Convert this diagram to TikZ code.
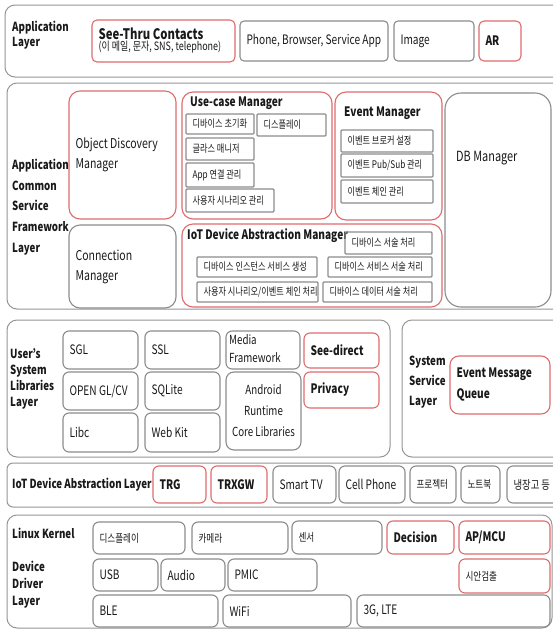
\documentclass[tikz,border=0pt]{standalone}
\usepackage{fontspec}
\setmainfont{Noto Sans CJK KR}[FakeStretch=0.78]
\definecolor{boxred}{RGB}{222,108,108}
\definecolor{boxgray}{RGB}{140,140,140}
\definecolor{laygray}{RGB}{150,150,150}
\definecolor{ink}{RGB}{25,25,25}
% box with left-aligned text
\newcommand\bx[7]{%
  \pgfmathsetlengthmacro\bxw{#5-#3}%
  \pgfmathsetlengthmacro\bxh{#6-#4}%
  \node[#1, anchor=north west, minimum width=\bxw, minimum height=\bxh,
        inner sep=0pt, outer sep=0pt] (#2) at (#3,#4) {};
  \node[#1, draw=none, fill=none, anchor=west, inner sep=0pt, align=left, text=ink]
        (#2-t) at ([xshift=6pt]#2.west) {#7};}
% box with centred text
\newcommand\cbx[7]{%
  \pgfmathsetlengthmacro\bxw{#5-#3}%
  \pgfmathsetlengthmacro\bxh{#6-#4}%
  \node[#1, anchor=north west, minimum width=\bxw, minimum height=\bxh,
        inner sep=0pt, outer sep=0pt] (#2) at (#3,#4) {};
  \node[#1, draw=none, fill=none, inner sep=0pt, align=center, text=ink]
        (#2-t) at (#2.center) {#7};}
% empty frame
\newcommand\fr[6]{%
  \pgfmathsetlengthmacro\bxw{#5-#3}%
  \pgfmathsetlengthmacro\bxh{#6-#4}%
  \node[#1, anchor=north west, minimum width=\bxw, minimum height=\bxh,
        inner sep=0pt, outer sep=0pt] (#2) at (#3,#4) {};}
\tikzset{
  layerbox/.style={draw=laygray, line width=1pt, rounded corners=10pt},
  gbox/.style={draw=boxgray, line width=1.1pt, rounded corners=4pt},
  rbox/.style={draw=boxred, line width=1.1pt, rounded corners=5pt},
  gbig/.style={gbox, rounded corners=11pt},
  rbig/.style={rbox, rounded corners=11pt},
  kitem/.style={gbox, rounded corners=1pt, font=\fontsize{10.5}{12}\selectfont},
  ko/.style={font=\fontsize{11}{13}\selectfont},
  rg/.style={font=\fontsize{13}{15}\selectfont},
  bd/.style={font=\bfseries\fontsize{13}{15}\selectfont},
  lab/.style={anchor=west, inner sep=0pt, align=left, text=ink},
}
\begin{document}
\begin{tikzpicture}[x=1pt,y=-1pt]
\useasboundingbox (0,0) rectangle (553,630);
\clip (0,0) rectangle (553,630);
\fill[white] (0,0) rectangle (553,630);

% ---------- Application Layer ----------
\fr{layerbox}{appL}{5}{5}{565}{77}
\node[lab, font=\bfseries\fontsize{12.5}{14.5}\selectfont] (appLbl) at (12,35) {Application\\Layer};
\bx{rbox}{seethru}{92}{20}{235}{62}{{\bfseries\fontsize{14.5}{17}\selectfont See-Thru Contacts}\\[-1pt]{\fontsize{11.5}{13}\selectfont (이 메일, 문자, SNS, telephone)}}
\bx{gbox, rg}{phone}{240}{21}{388}{61}{Phone, Browser, Service App}
\bx{gbox, rg}{image}{394}{21}{474}{61}{Image}
\bx{rbox, bd}{ar}{479}{21}{521}{61}{AR}

% ---------- Application Common Service Framework Layer ----------
\fr{layerbox}{fwL}{7}{83}{565}{309}
\node[lab, font=\bfseries\fontsize{12.5}{20.7}\selectfont] (fwLbl) at (12,207) {Application\\Common\\Service\\Framework\\Layer};
\bx{rbig, font=\fontsize{13.5}{20}\selectfont}{odm}{69}{91}{176}{219}{Object Discovery\\Manager}
\bx{gbig, font=\fontsize{13.5}{20}\selectfont}{conn}{69}{225}{176}{308}{Connection\\Manager}

\fr{rbig}{uc}{182}{92}{332}{219}
\node[lab, font=\bfseries\fontsize{13}{15}\selectfont] (ucT) at (190,103) {Use-case Manager};
\bx{kitem}{uc1}{186}{114}{254}{134}{디바이스 초기화}
\bx{kitem}{uc2}{257}{114}{326}{136}{디스플레이}
\bx{kitem}{uc3}{186}{138}{254}{160}{글라스 매니저}
\bx{kitem}{uc4}{186}{163}{254}{187}{App 연결 관리}
\bx{kitem}{uc5}{186}{189}{274}{212}{사용자 시나리오 관리}

\fr{rbig}{ev}{335}{92}{442}{220}
\node[lab, font=\bfseries\fontsize{13}{15}\selectfont] (evT) at (344,113) {Event Manager};
\bx{kitem}{ev1}{341}{130}{433}{152}{이벤트 브로커 설정}
\bx{kitem}{ev2}{341}{154}{433}{177}{이벤트 Pub/Sub 관리}
\bx{kitem}{ev3}{341}{180}{433}{203}{이벤트 체인 관리}

\fr{gbig, rounded corners=16pt}{db}{445}{93}{551}{307}
\node[lab, font=\fontsize{14}{16}\selectfont] (dbT) at (456,158) {DB Manager};

\fr{rbig}{iotm}{182}{224}{442}{307}
\node[lab, font=\bfseries\fontsize{13}{15}\selectfont] (iotT) at (187,236) {IoT Device Abstraction Manager};
\bx{kitem}{im1}{345}{232}{432}{254}{디바이스 서술 처리}
\bx{kitem}{im2}{197}{257}{317}{277}{디바이스 인스턴스 서비스 생성}
\bx{kitem}{im3}{328}{257}{432}{277}{디바이스 서비스 서술 처리}
\bx{kitem}{im4}{197}{282}{318}{302}{사용자 시나리오/이벤트 체인 처리}
\bx{kitem}{im5}{323}{282}{432}{302}{디바이스 데이터 서술 처리}

% ---------- User's System Libraries Layer ----------
\fr{layerbox}{usL}{7}{320}{390}{457}
\node[lab, font=\bfseries\fontsize{12.5}{16}\selectfont] (usLbl) at (10,379) {User’s\\System\\Libraries\\Layer};
\bx{gbox, rg, rounded corners=6pt}{sgl}{63}{331}{138}{369}{SGL}
\bx{gbox, rg, rounded corners=6pt}{opengl}{63}{372}{138}{410}{OPEN GL/CV}
\bx{gbox, rg, rounded corners=6pt}{libc}{63}{413}{138}{452}{Libc}
\bx{gbox, rg, rounded corners=6pt}{ssl}{145}{331}{220}{369}{SSL}
\bx{gbox, rg, rounded corners=6pt}{sqlite}{145}{372}{220}{410}{SQLite}
\bx{gbox, rg, rounded corners=6pt}{webkit}{145}{413}{220}{452}{Web Kit}
\fr{gbox, rounded corners=6pt}{media}{226}{331}{300}{369}
\node[lab, font=\fontsize{12.5}{18}\selectfont] (media-t) at (229,349) {Media\\Framework};
\cbx{gbox, rounded corners=8pt, font=\fontsize{12.5}{21}\selectfont}{android}{226}{372}{301}{450}{Android\\Runtime\\Core Libraries}
\bx{rbox, bd, rounded corners=6pt}{seedirect}{304}{333}{379}{368}{See-direct}
\bx{rbox, bd, rounded corners=6pt}{privacy}{304}{372}{379}{408}{Privacy}

% ---------- System Service Layer ----------
\fr{layerbox}{ssL}{402}{320}{565}{457}
\node[lab, font=\bfseries\fontsize{12.5}{20}\selectfont] (ssLbl) at (409,382) {System\\Service\\Layer};
\bx{rbox, rounded corners=9pt, font=\bfseries\fontsize{13}{21}\selectfont}{emq}{450}{356}{550}{414}{Event Message\\Queue}

% ---------- IoT Device Abstraction Layer ----------
\fr{layerbox, rounded corners=6pt}{iotL}{7}{463}{565}{507}
\node[lab, font=\bfseries\fontsize{12.5}{14}\selectfont] (iotLbl) at (12,485) {IoT Device Abstraction Layer};
\bx{rbox, bd, rounded corners=6pt}{trg}{153}{466}{206}{503}{TRG}
\bx{rbox, bd, rounded corners=6pt}{trxgw}{211}{466}{267}{503}{TRXGW}
\bx{gbox, rg, rounded corners=6pt}{smarttv}{273}{466}{336}{503}{Smart TV}
\bx{gbox, rg, rounded corners=6pt}{cell}{339}{466}{405}{503}{Cell Phone}
\bx{gbox, ko, rounded corners=6pt}{proj}{410}{466}{456}{503}{프로젝터}
\bx{gbox, ko, rounded corners=6pt}{note}{461}{466}{500}{503}{노트북}
\bx{gbox, font=\fontsize{12}{14}\selectfont, rounded corners=6pt}{fridge}{507}{466}{565}{503}{냉장고 등}

% ---------- Linux Kernel Device Driver Layer ----------
\fr{layerbox}{ddL}{7}{515}{552}{628}
\node[lab, font=\bfseries\fontsize{12.5}{14}\selectfont] (lkLbl) at (12,533) {Linux Kernel};
\node[lab, font=\bfseries\fontsize{12.5}{17}\selectfont] (ddLbl) at (12,585) {Device\\Driver\\Layer};
\bx{gbox, ko, rounded corners=6pt}{k1}{93}{522}{185}{554}{디스플레이}
\bx{gbox, ko, rounded corners=6pt}{k2}{192}{522}{288}{554}{카메라}
\bx{gbox, ko, rounded corners=6pt}{k3}{292}{521}{382}{554}{센서}
\bx{rbox, bd, rounded corners=6pt}{decision}{387}{521}{454}{554}{Decision}
\bx{rbox, bd, rounded corners=6pt}{apmcu}{459}{521}{550}{554}{AP/MCU}
\bx{gbox, rg, rounded corners=6pt}{usb}{93}{559}{158}{591}{USB}
\bx{gbox, rg, rounded corners=6pt}{audio}{161}{559}{225}{591}{Audio}
\bx{gbox, rg, rounded corners=6pt}{pmic}{228}{559}{317}{591}{PMIC}
\bx{rbox, ko, rounded corners=6pt}{gaze}{459}{559}{550}{593}{시안검출}
\bx{gbox, rg, rounded corners=6pt}{ble}{93}{595}{218}{627}{BLE}
\bx{gbox, rg, rounded corners=6pt}{wifi}{223}{595}{351}{627}{WiFi}
\bx{gbox, rg, rounded corners=6pt}{lte}{357}{595}{550}{627}{3G, LTE}
\end{tikzpicture}
\end{document}
